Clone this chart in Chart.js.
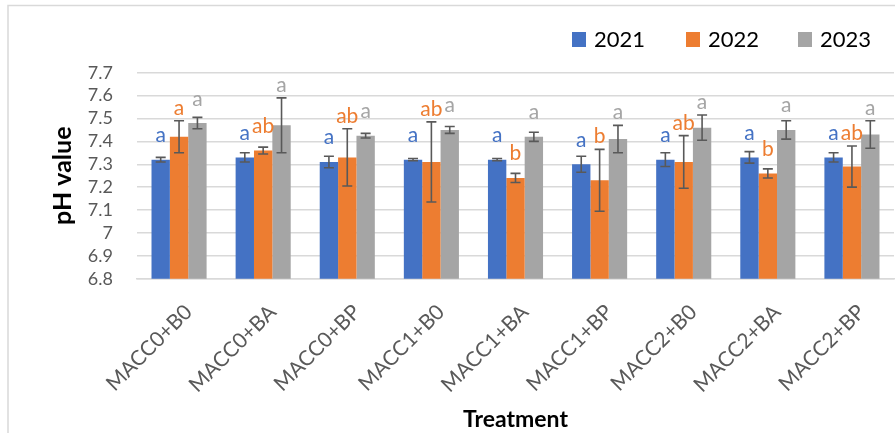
<!DOCTYPE html>
<html>
<head>
<meta charset="utf-8">
<script src="https://cdn.jsdelivr.net/npm/chart.js@4.4.1/dist/chart.umd.min.js"></script>
<style>
  html, body { margin: 0; padding: 0; background: #ffffff; }
  #wrap { width: 895px; height: 435px; }
</style>
</head>
<body>
<div id="wrap"><canvas id="c" width="895" height="435"></canvas></div>
<script>
const categories = ['MACC0+B0','MACC0+BA','MACC0+BP','MACC1+B0','MACC1+BA','MACC1+BP','MACC2+B0','MACC2+BA','MACC2+BP'];
const seriesNames = ['2021','2022','2023'];
const ph2021 = [7.32, 7.33, 7.31, 7.32, 7.32, 7.30, 7.32, 7.33, 7.33];
const ph2022 = [7.42, 7.36, 7.33, 7.31, 7.24, 7.23, 7.31, 7.26, 7.29];
const ph2023 = [7.48, 7.47, 7.425, 7.45, 7.42, 7.41, 7.46, 7.45, 7.43];
const err2021 = [0.01, 0.02, 0.025, 0.005, 0.005, 0.035, 0.03, 0.025, 0.02];
const err2022 = [0.07, 0.015, 0.125, 0.175, 0.02, 0.135, 0.115, 0.02, 0.09];
const err2023 = [0.025, 0.12, 0.01, 0.015, 0.02, 0.06, 0.055, 0.04, 0.06];
const letters2021 = ['a','a','a','a','a','a','a','a','a'];
const letters2022 = ['a','ab','ab','ab','b','b','ab','b','ab'];
const letters2023 = ['a','a','a','a','a','a','a','a','a'];
const yTickLabels = ['6.8','6.9','7','7.1','7.2','7.3','7.4','7.5','7.6','7.7'];
const xTitle = 'Treatment';
const yTitle = 'pH value';

const colors = ['#4472C4', '#ED7D31', '#A5A5A5'];
const values = [ph2021, ph2022, ph2023];
const errors = [err2021, err2022, err2023];
const letters = [letters2021, letters2022, letters2023];

const frame = {
  id: 'frame',
  beforeDraw(chart) {
    const ctx = chart.ctx;
    ctx.save();
    ctx.fillStyle = '#ffffff';
    ctx.fillRect(0, 0, chart.width, chart.height);
    ctx.strokeStyle = '#d9d9d9';
    ctx.lineWidth = 1.5;
    ctx.beginPath();
    ctx.moveTo(8, 433);
    ctx.lineTo(8, 5.5);
    ctx.lineTo(chart.width, 5.5);
    ctx.stroke();
    ctx.restore();
  }
};

// legend drawn from the chart's own datasets
const legendBoxes = {
  id: 'legendBoxes',
  afterDraw(chart) {
    const ctx = chart.ctx;
    ctx.save();
    const boxX = [572, 686, 798];
    chart.data.datasets.forEach((ds, i) => {
      ctx.fillStyle = ds.backgroundColor;
      ctx.fillRect(boxX[i], 32, 14, 15);
      ctx.fillStyle = '#000000';
      ctx.font = '22px Lato';
      ctx.textAlign = 'left';
      ctx.textBaseline = 'middle';
      ctx.fillText(ds.label, boxX[i] + 22, 40);
    });
    ctx.restore();
  }
};

const errLetters = {
  id: 'errLetters',
  afterDatasetsDraw(chart) {
    const ctx = chart.ctx;
    const yScale = chart.scales.y;
    ctx.save();
    chart.data.datasets.forEach((ds, i) => {
      const meta = chart.getDatasetMeta(i);
      meta.data.forEach((bar, j) => {
        const v = values[i][j];
        const e = errors[i][j];
        const x = bar.x;
        const yT = yScale.getPixelForValue(v + e);
        const yB = yScale.getPixelForValue(v - e);
        ctx.strokeStyle = '#595959';
        ctx.lineWidth = 1.6;
        ctx.beginPath();
        ctx.moveTo(x, yT); ctx.lineTo(x, yB);
        ctx.moveTo(x - 5, yT); ctx.lineTo(x + 5, yT);
        ctx.moveTo(x - 5, yB); ctx.lineTo(x + 5, yB);
        ctx.stroke();
      });
    });
    chart.data.datasets.forEach((ds, i) => {
      const meta = chart.getDatasetMeta(i);
      meta.data.forEach((bar, j) => {
        const yT = yScale.getPixelForValue(values[i][j] + errors[i][j]);
        const base = Math.min(bar.y - 17.5, yT - 6);
        ctx.fillStyle = colors[i];
        ctx.font = '21px Lato';
        ctx.textAlign = 'center';
        ctx.textBaseline = 'alphabetic';
        ctx.fillText(letters[i][j], bar.x, base);
      });
    });
    ctx.restore();
  }
};

new Chart(document.getElementById('c'), {
  type: 'bar',
  data: {
    labels: categories,
    datasets: seriesNames.map((name, i) => ({
      label: name,
      data: values[i],
      backgroundColor: colors[i],
      borderWidth: 0,
      categoryPercentage: 0.655,
      barPercentage: 1.0
    }))
  },
  options: {
    responsive: false,
    devicePixelRatio: 1,
    animation: false,
    layout: { padding: { top: 72.7, left: 40, right: 1, bottom: 0 } },
    plugins: {
      tooltip: { enabled: false },
      legend: { display: false }
    },
    scales: {
      x: {
        grid: { display: false },
        border: { display: true, color: '#d9d9d9', width: 1.5 },
        ticks: {
          color: '#595959',
          font: { family: 'Lato', size: 21 },
          minRotation: 45,
          maxRotation: 45,
          autoSkip: false,
          padding: 13,
          labelOffset: 9.5
        },
        title: {
          display: true,
          text: xTitle,
          color: '#000000',
          font: { family: 'Lato', size: 23, weight: 'bold' },
          padding: { top: 0, bottom: 1.5 }
        },
        afterFit(scale) { scale.height = 156.3; }
      },
      y: {
        min: 6.8,
        max: 7.7,
        grid: { color: '#d9d9d9', lineWidth: 1.5, drawTicks: false },
        border: { display: false },
        ticks: {
          stepSize: 0.1,
          autoSkip: false,
          color: '#595959',
          font: { family: 'Lato', size: 18 },
          padding: 24,
          callback: (v, idx) => yTickLabels[idx]
        },
        title: {
          display: true,
          text: yTitle,
          color: '#000000',
          font: { family: 'Lato', size: 25, weight: 'bold' },
          padding: { top: 7.5, bottom: 0 }
        },
        afterFit(scale) { scale.width = 97; }
      }
    }
  },
  plugins: [frame, errLetters, legendBoxes]
});
</script>
</body>
</html>
